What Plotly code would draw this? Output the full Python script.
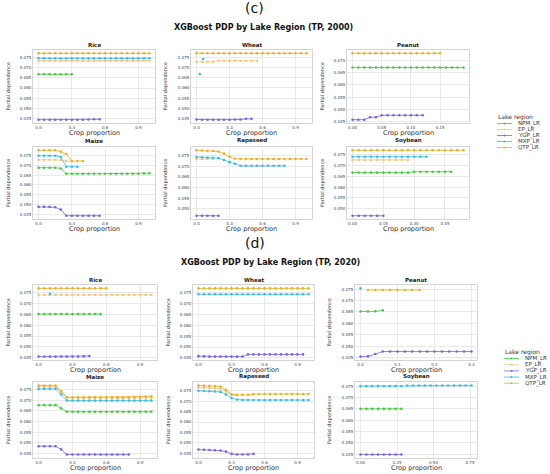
import plotly.graph_objects as go

W, H = 550, 474
FONT = "DejaVu Sans"

REGIONS = ["NPM_LR", "EP_LR", "YGP_LR", "MXP_LR", "QTP_LR"]
REGION_COLORS = {
    "NPM_LR": "#45c945",
    "EP_LR": "#f3c682",
    "YGP_LR": "#7a62e0",
    "MXP_LR": "#3bbde6",
    "QTP_LR": "#e6b12c",
}
CROPS = ["Rice", "Wheat", "Peanut", "Maize", "Rapeseed", "Soybean"]

# --- grid values of crop proportion used by the PDPs ---
GRID_1 = [0.00, 0.05, 0.10, 0.15, 0.20, 0.25, 0.30, 0.35, 0.40, 0.45, 0.50,
          0.55, 0.60, 0.65, 0.70, 0.75, 0.80, 0.85, 0.90, 0.95, 1.00]
GRID_PEANUT_2000 = [0.00, 0.01, 0.02, 0.03, 0.04, 0.05, 0.06, 0.07, 0.08, 0.09,
                    0.10, 0.11, 0.12, 0.13, 0.14, 0.15, 0.16, 0.17, 0.18, 0.19]
GRID_SOY_2000 = [0.00, 0.03, 0.06, 0.09, 0.12, 0.15, 0.18, 0.21, 0.24, 0.27,
                 0.30, 0.33, 0.36, 0.39, 0.42, 0.45, 0.48, 0.51, 0.54]
GRID_PEANUT_2020 = [0.00, 0.02, 0.04, 0.06, 0.08, 0.10, 0.12, 0.14, 0.16, 0.18,
                    0.20, 0.22, 0.24, 0.26, 0.28, 0.30]
GRID_SOY_2020 = [0.00, 0.04, 0.08, 0.12, 0.16, 0.20, 0.24, 0.28, 0.32, 0.36,
                 0.40, 0.44, 0.48, 0.52, 0.56, 0.60, 0.64, 0.68, 0.72, 0.76]

# --- (c) TP, 2000 ---
rice_2000 = {
    "NPM_LR": (GRID_1[:7], [0.0667] * 7),
    "EP_LR": (GRID_1, [0.0733] * 21),
    "YGP_LR": (GRID_1[:12], [0.0446] * 9 + [0.0447, 0.0448, 0.0448]),
    "MXP_LR": (GRID_1, [0.0745] * 21),
    "QTP_LR": (GRID_1, [0.0769] * 21),
}
wheat_2000 = {
    "NPM_LR": ([0.03], [0.0668]),
    "EP_LR": (GRID_1[:12], [0.0727] * 4 + [0.0733] * 8),
    "YGP_LR": (GRID_1[:11], [0.0446] + [0.0445] * 6 + [0.0446, 0.0446, 0.0449, 0.0449]),
    "MXP_LR": ([0.06], [0.0741]),
    "QTP_LR": (GRID_1, [0.0769] * 21),
}
peanut_2000 = {
    "NPM_LR": (GRID_PEANUT_2000, [0.0671] * 20),
    "YGP_LR": (GRID_PEANUT_2000[:13], [0.0458] * 3 + [0.0468] * 2 + [0.0476] * 8),
    "QTP_LR": (GRID_PEANUT_2000[:16], [0.0729] * 16),
}
maize_2000 = {
    "NPM_LR": (GRID_1, [0.0688] * 4 + [0.0684] + [0.0657] * 14 + [0.0659, 0.0660]),
    "EP_LR": (GRID_1[:7], [0.0729] * 4 + [0.0727] + [0.0721] * 2),
    "YGP_LR": (GRID_1[:12], [0.0488] * 3 + [0.0486, 0.0475] + [0.0443] * 7),
    "MXP_LR": (GRID_1[:8], [0.0749] * 4 + [0.0743] + [0.0693] * 3),
    "QTP_LR": (GRID_1[:9], [0.0777] * 4 + [0.0770, 0.0758] + [0.0722] * 3),
}
rapeseed_2000 = {
    "EP_LR": (GRID_1[:4], [0.0735] * 4),
    "YGP_LR": (GRID_1[:5], [0.0468] * 5),
    "MXP_LR": (GRID_1[:17], [0.0744, 0.0743, 0.0742, 0.0741, 0.0739, 0.0730, 0.0720, 0.0712]
               + [0.0703] * 9),
    "QTP_LR": (GRID_1, [0.0776, 0.0775, 0.0774, 0.0773, 0.0770, 0.0760, 0.0745, 0.0736]
               + [0.0735] * 13),
}
soybean_2000 = {
    "NPM_LR": (GRID_SOY_2000[:17], [0.0668] * 10 + [0.0672] * 7),
    "EP_LR": (GRID_SOY_2000[:10], [0.0727] * 10),
    "YGP_LR": (GRID_SOY_2000[:6], [0.0467] * 6),
    "MXP_LR": (GRID_SOY_2000[:13], [0.0742] * 13),
    "QTP_LR": (GRID_SOY_2000, [0.0772] * 19),
}

# --- (d) TP, 2020 ---
rice_2020 = {
    "NPM_LR": (GRID_1[:12], [0.0652] * 12),
    "EP_LR": (GRID_1, [0.0741] * 21),
    "YGP_LR": (GRID_1[:10], [0.0455] * 8 + [0.0456, 0.0458]),
    "MXP_LR": ([0.10], [0.0746]),
    "QTP_LR": (GRID_1[:13], [0.0771] * 13),
}
wheat_2020 = {
    "YGP_LR": (GRID_1[:20], [0.0458, 0.0457] + [0.0456] * 7 + [0.0466] * 11),
    "MXP_LR": (GRID_1, [0.0743] * 21),
    "QTP_LR": (GRID_1, [0.0770] * 21),
}
peanut_2020 = {
    "NPM_LR": (GRID_PEANUT_2020[:4], [0.0652, 0.0652, 0.0653, 0.0657]),
    "YGP_LR": (GRID_PEANUT_2020, [0.0455, 0.0456, 0.0466] + [0.0477] * 13),
    "MXP_LR": ([0.0], [0.0753]),
    "QTP_LR": (GRID_PEANUT_2020[1:9], [0.0746] * 8),
}
maize_2020 = {
    "NPM_LR": (GRID_1, [0.0677] * 4 + [0.0662] + [0.0646] * 16),
    "EP_LR": (GRID_1, [0.0763] * 4 + [0.0738] + [0.0711] * 16),
    "YGP_LR": (GRID_1[:17], [0.0485] * 4 + [0.0470] + [0.0446] * 12),
    "MXP_LR": (GRID_1, [0.0753] * 4 + [0.0727] + [0.0698] * 16),
    "QTP_LR": (GRID_1, [0.0769] * 4 + [0.0742] + [0.0714] * 12
               + [0.0715, 0.0716, 0.0717, 0.0718]),
}
rapeseed_2020 = {
    "EP_LR": (GRID_1[:8], [0.0766, 0.0765, 0.0764, 0.0763, 0.0761, 0.0748, 0.0731, 0.0729]),
    "YGP_LR": (GRID_1[:11], [0.0468, 0.0467, 0.0466, 0.0465, 0.0463, 0.0458, 0.0447]
               + [0.0444] * 3 + [0.0447]),
    "MXP_LR": (GRID_1, [0.0750, 0.0749, 0.0748, 0.0747, 0.0745, 0.0733, 0.0716, 0.0708]
               + [0.0706] * 13),
    "QTP_LR": (GRID_1, [0.0776, 0.0775, 0.0774, 0.0773, 0.0771, 0.0755, 0.0733]
               + [0.0731] * 3 + [0.0735] * 11),
}
soybean_2020 = {
    "NPM_LR": (GRID_SOY_2020[:8], [0.0650] * 8),
    "YGP_LR": (GRID_SOY_2020[:8], [0.0449] * 8),
    "MXP_LR": (GRID_SOY_2020, [0.0750] * 8 + [0.0753] * 12),
}

PANEL_2000 = [rice_2000, wheat_2000, peanut_2000, maize_2000, rapeseed_2000, soybean_2000]
PANEL_2020 = [rice_2020, wheat_2020, peanut_2020, maize_2020, rapeseed_2020, soybean_2020]
X_DTICK_2000 = [0.3, 0.3, 0.05, 0.3, 0.3, 0.15]
X_DTICK_2020 = [0.3, 0.3, 0.1, 0.3, 0.3, 0.25]

# --- layout of the panels, in pixels ---
PANELS = [
    dict(label="(c)", title="XGBoost PDP by Lake Region (TP, 2000)",
         data=PANEL_2000, dticks=X_DTICK_2000,
         cols=[(33, 155), (191, 312), (347, 469)], rows=[(50, 123), (147, 219)],
         ytitle_x=[8, 165, 322], label_xy=(254, 8), title_xy=(263, 28),
         legend_x=496, legend_y=117, legend_step=6.0),
    dict(label="(d)", title="XGBoost PDP by Lake Region (TP, 2020)",
         data=PANEL_2020, dticks=X_DTICK_2020,
         cols=[(33, 157), (193, 314), (355, 477)], rows=[(285, 360), (382, 458)],
         ytitle_x=[8, 168, 329], label_xy=(255, 243), title_xy=(270, 262),
         legend_x=503, legend_y=352, legend_step=6.2),
]


def px(x):
    return x / W


def py(y):
    return 1 - y / H


def padded(vals, frac=0.05):
    lo, hi = min(vals), max(vals)
    pad = (hi - lo) * frac
    return [lo - pad, hi + pad]


fig = go.Figure()
annotations = []
shapes = []
layout_axes = {}

n = 0
for panel in PANELS:
    for j, crop in enumerate(CROPS):
        n += 1
        row, col = j // 3, j % 3
        x0, x1 = panel["cols"][col]
        y0, y1 = panel["rows"][row]
        data = panel["data"][j]
        xname = "x" if n == 1 else f"x{n}"
        yname = "y" if n == 1 else f"y{n}"

        for region in REGIONS:
            if region not in data:
                continue
            xs, ys = data[region]
            fig.add_trace(go.Scatter(
                x=xs, y=ys,
                mode="lines+markers" if len(xs) > 1 else "markers",
                line=dict(color=REGION_COLORS[region], width=0.8),
                marker=dict(color=REGION_COLORS[region], size=2.6),
                xaxis=xname, yaxis=yname,
                name=region, showlegend=False, hoverinfo="x+y+name",
            ))

        all_x = [v for xs, _ in data.values() for v in xs]
        all_y = [v for _, ys in data.values() for v in ys]
        dtick = panel["dticks"][j]
        common = dict(
            showgrid=True, gridcolor="#e9e9e9", gridwidth=0.6,
            zeroline=False, showline=True, linecolor="#d4d4d4", linewidth=0.8,
            mirror=True, ticks="", tickfont=dict(family=FONT, size=4, color="#444"),
        )
        layout_axes["xaxis" if n == 1 else f"xaxis{n}"] = dict(
            domain=[px(x0), px(x1)], anchor=yname, range=padded(all_x),
            tick0=0, dtick=dtick, tickformat=".1f" if dtick in (0.3, 0.1) else ".2f",
            **common)
        layout_axes["yaxis" if n == 1 else f"yaxis{n}"] = dict(
            domain=[py(y1), py(y0)], anchor=xname, range=padded(all_y),
            tick0=0, dtick=0.005, tickformat=".3f", **common)

        # subplot title and axis titles
        annotations.append(dict(
            text=f"<b>{crop}</b>", x=px((x0 + x1) / 2), y=py(y0 - 0.5),
            xref="paper", yref="paper", xanchor="center", yanchor="bottom",
            showarrow=False, font=dict(family=FONT, size=5.5, color="#222")))
        annotations.append(dict(
            text="Crop proportion", x=px((x0 + x1) / 2), y=py(y1 + 10),
            xref="paper", yref="paper", xanchor="center", yanchor="middle",
            showarrow=False, font=dict(family=FONT, size=6.5, color="#333")))
        annotations.append(dict(
            text="Partial dependence", x=px(panel["ytitle_x"][col]), y=py((y0 + y1) / 2),
            xref="paper", yref="paper", xanchor="center", yanchor="middle",
            textangle=-90, showarrow=False, font=dict(family=FONT, size=5, color="#333")))

    # panel label and title
    lx, ly = panel["label_xy"]
    annotations.append(dict(
        text=panel["label"], x=px(lx), y=py(ly), xref="paper", yref="paper",
        xanchor="center", yanchor="middle", showarrow=False,
        font=dict(family=FONT, size=14, color="#111")))
    tx, ty = panel["title_xy"]
    annotations.append(dict(
        text=f"<b>{panel['title']}</b>", x=px(tx), y=py(ty), xref="paper", yref="paper",
        xanchor="center", yanchor="middle", showarrow=False,
        font=dict(family=FONT, size=8, color="#111")))

    # hand-drawn legend (plotly's legend rows are too tall at this size)
    gx, gy, step = panel["legend_x"], panel["legend_y"], panel["legend_step"]
    annotations.append(dict(
        text="Lake region", x=px(gx), y=py(gy), xref="paper", yref="paper",
        xanchor="left", yanchor="middle", showarrow=False,
        font=dict(family=FONT, size=6, color="#333")))
    for i, region in enumerate(REGIONS):
        ey = gy + 6.5 + i * step
        shapes.append(dict(type="line", xref="paper", yref="paper",
                           x0=px(gx + 1), x1=px(gx + 16), y0=py(ey), y1=py(ey),
                           line=dict(color=REGION_COLORS[region], width=0.8)))
        shapes.append(dict(type="circle", xref="paper", yref="paper",
                           x0=px(gx + 7.5), x1=px(gx + 9.5), y0=py(ey - 1), y1=py(ey + 1),
                           fillcolor=REGION_COLORS[region], line=dict(width=0)))
        annotations.append(dict(
            text=region, x=px(gx + 20), y=py(ey), xref="paper", yref="paper",
            xanchor="left", yanchor="middle", showarrow=False,
            font=dict(family=FONT, size=5.5, color="#333")))

fig.update_layout(
    width=W, height=H,
    margin=dict(l=0, r=0, t=0, b=0),
    paper_bgcolor="white", plot_bgcolor="white",
    showlegend=False,
    annotations=annotations,
    shapes=shapes,
    **layout_axes,
)

# the page's default 8px body margin would push the 550x474 figure off the window
fig.write_html("out.html", config={"displayModeBar": False},
               post_script="document.body.style.margin = '0';")
